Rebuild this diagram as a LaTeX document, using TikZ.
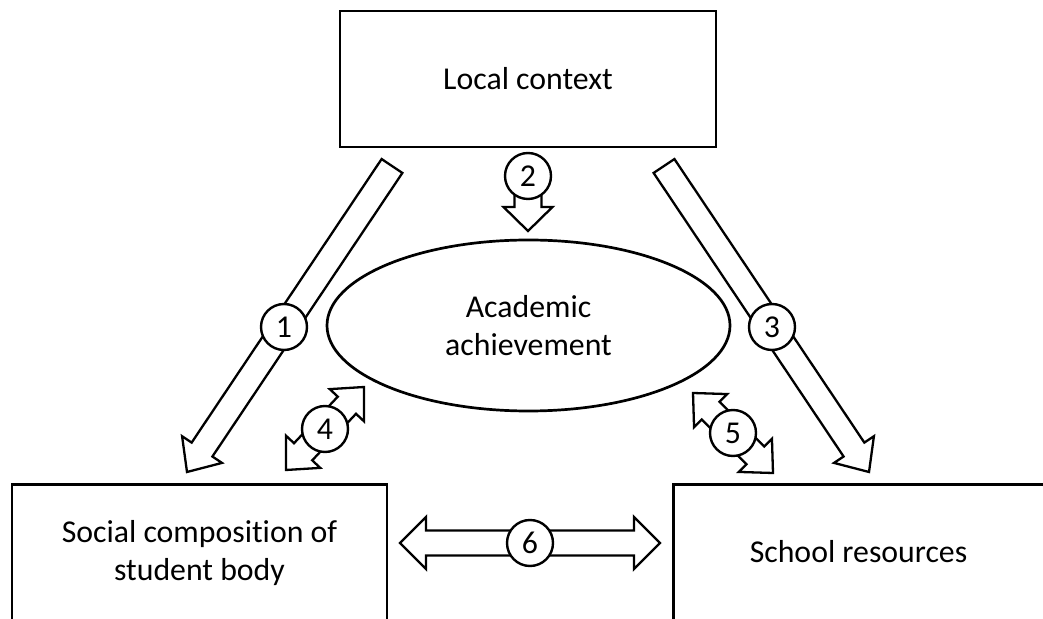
\documentclass[tikz,border=0pt]{standalone}
\usepackage{fontspec}
\setmainfont{Carlito}[Ligatures=NoCommon]
\usetikzlibrary{calc,shapes.geometric}

% Block arrow with one head: #1 tail, #2 tip, #3 shaft half width,
% #4 head half width, #5 head length
\newcommand\fatarrow[5]{%
  \coordinate (fa-h) at ($(#2)!#5!(#1)$);
  \draw[blockarrow] ($(#1)!#3!90:(#2)$) -- ($(fa-h)!#3!-90:(#1)$)
    -- ($(fa-h)!#4!-90:(#1)$) -- (#2) -- ($(fa-h)!#4!90:(#1)$)
    -- ($(fa-h)!#3!90:(#1)$) -- ($(#1)!#3!-90:(#2)$) -- cycle;
}
% Block arrow with a head at both ends: #1 and #2 are the tips
\newcommand\dblarrow[5]{%
  \coordinate (da-a) at ($(#1)!#5!(#2)$);
  \coordinate (da-b) at ($(#2)!#5!(#1)$);
  \draw[blockarrow] (#1) -- ($(da-a)!#4!90:(#2)$) -- ($(da-a)!#3!90:(#2)$)
    -- ($(da-b)!#3!-90:(#1)$) -- ($(da-b)!#4!-90:(#1)$) -- (#2)
    -- ($(da-b)!#4!90:(#1)$) -- ($(da-b)!#3!90:(#1)$)
    -- ($(da-a)!#3!-90:(#2)$) -- ($(da-a)!#4!-90:(#2)$) -- cycle;
}

\begin{document}
\begin{tikzpicture}[x=0.5pt,y=-0.5pt,
  every node/.style={font=\fontsize{15.9}{19}\selectfont},
  box/.style={draw, line width=1.35pt, inner sep=0pt},
  num/.style={circle, draw, line width=1.2pt, fill=white, minimum size=23pt, inner sep=0pt},
  blockarrow/.style={draw, line width=1.15pt, fill=white, line join=miter}]
\useasboundingbox (0,0) rectangle (1043,619);
\clip (0,0) rectangle (1043,619);

% boxes and ellipse
\node[box, minimum width=188pt, minimum height=68pt] (local) at (528,79) {Local context};
\node[box, ellipse, minimum width=201.5pt, minimum height=85.5pt, align=center]
  (acad) at (528.5,325.5) {Academic\\achievement};
\node[box, anchor=north, minimum width=187.5pt, minimum height=110pt] (social) at (199.5,483) {};
\node[box, anchor=north west, minimum width=200pt, minimum height=110pt] (school) at (672,483) {};
\node[anchor=base, align=center] (socialtxt) at (199.5,580) {Social composition of\\student body};
\node[anchor=base] (schooltxt) at (858.5,562) {School resources};

% arrow end points
\coordinate (a1s) at (392,166);
\coordinate (a1e) at (187,472);
\coordinate (a2s) at (528,176);
\coordinate (a2e) at (528,231);
\coordinate (a3s) at (664,166);
\coordinate (a3e) at (869,472);
\coordinate (a4a) at (286,470);
\coordinate (a4b) at (364,387);
\coordinate (a5a) at (693,393);
\coordinate (a5b) at (773,473);
\coordinate (a6a) at (400,543);
\coordinate (a6b) at (660,543);

% block arrows
\fatarrow{a1s}{a1e}{6.25pt}{12pt}{13.5pt}
\fatarrow{a3s}{a3e}{6.25pt}{12pt}{13.5pt}
\fatarrow{a2s}{a2e}{6.75pt}{12.25pt}{12pt}
\dblarrow{a4a}{a4b}{6.25pt}{11.75pt}{12.5pt}
\dblarrow{a5a}{a5b}{6.25pt}{11.75pt}{12.5pt}
\dblarrow{a6a}{a6b}{6.25pt}{13pt}{13pt}

% numbered circles
\node[num] (n1) at (284,327) {1};
\node[num] (n2) at (528,176) {2};
\node[num] (n3) at (772,327) {3};
\node[num] (n4) at (325,429) {4};
\node[num] (n5) at (733,433) {5};
\node[num] (n6) at (530,543) {6};
\end{tikzpicture}
\end{document}
